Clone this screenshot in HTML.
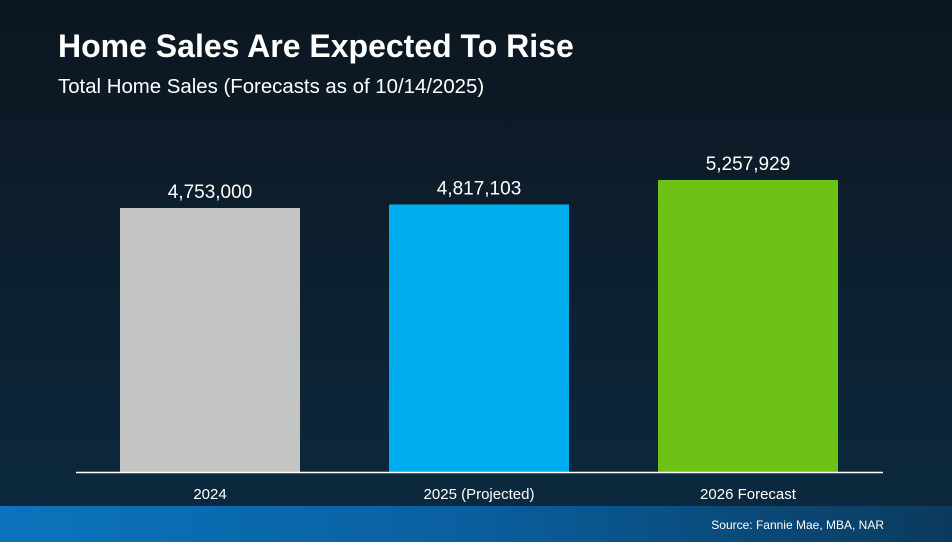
<!DOCTYPE html>
<html><head><meta charset="utf-8"><style>
body{margin:0;width:952px;height:542px;overflow:hidden;font-family:"Liberation Sans",sans-serif;}
#wrap{position:relative;width:952px;height:542px;background:linear-gradient(180deg,#0c1620 0%,#0d1e2c 40%,#0c2a40 100%);}
#footer{position:absolute;left:0;top:506px;width:952px;height:36px;background:linear-gradient(90deg,#0b74bd 0%,#0a5f9e 50%,#0b3a5e 100%);}
h1{position:absolute;left:58px;top:28px;margin:0;color:#fff;font-size:32px;font-weight:bold;}
#sub{position:absolute;left:58px;top:76px;color:#fff;font-size:20.4px;}
#src{position:absolute;right:68px;top:518px;color:#fff;font-size:12px;}
svg{position:absolute;left:0;top:0;}
</style></head><body>
<div id="wrap">
<h1>Home Sales Are Expected To Rise</h1>
<div id="sub">Total Home Sales (Forecasts as of 10/14/2025)</div>
<div id="footer"></div>
<div id="src">Source: Fannie Mae, MBA, NAR</div>
<svg id="chart" width="952" height="542"></svg>
</div>
<script>
const categories=["2024","2025 (Projected)","2026 Forecast"];
const values=[4753000,4817103,5257929];
const labels=["4,753,000","4,817,103","5,257,929"];
const colors=["#c3c5c4","#00aeef","#6cc315"];
const NS="http://www.w3.org/2000/svg";
const svg=document.getElementById("chart");
const base=472, pxPer=264/4753000;
function y(v){return base-v*pxPer;}
function x(i){return 120+i*269;}
const bw=180;
function mk(t,a){const e=document.createElementNS(NS,t);for(const k in a)e.setAttribute(k,a[k]);svg.appendChild(e);return e;}
values.forEach((v,i)=>{
  const r=mk("rect",{x:x(i),y:y(v),width:bw,height:base-y(v),fill:colors[i]});
  
  
  const t=mk("text",{x:x(i)+bw/2,y:y(v)-10,"text-anchor":"middle",fill:"#fff","font-size":"19","font-family":"Liberation Sans"});
  t.textContent=labels[i];
  
  
  const c=mk("text",{x:x(i)+bw/2,y:499,"text-anchor":"middle",fill:"#fff","font-size":"15","font-family":"Liberation Sans"});
  c.textContent=categories[i];
  
  
});
const ax=mk("line",{x1:76,x2:883,y1:base+0.5,y2:base+0.5,stroke:"#fff","stroke-width":"1.5"});


</script>
</body></html>
